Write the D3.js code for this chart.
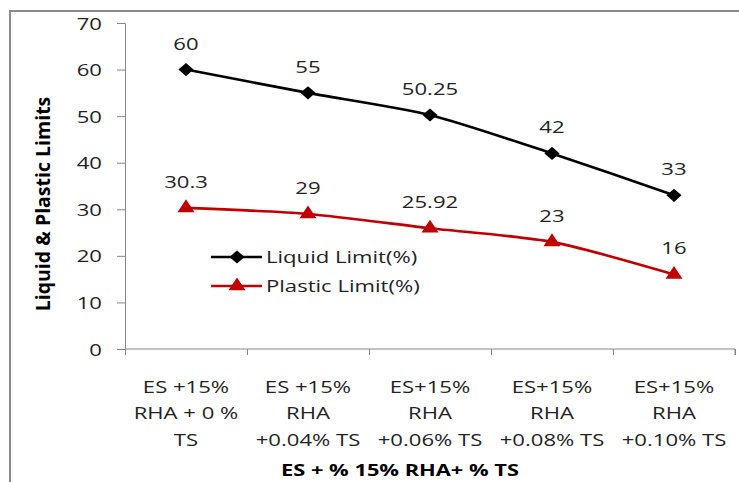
<!DOCTYPE html>
<html>
<head>
<meta charset="utf-8">
<script src="https://cdn.jsdelivr.net/npm/d3@7"></script>
<style>
  body { margin: 0; background: #fff; }
  text { font-family: "Open Sans", sans-serif; }
</style>
</head>
<body>
<svg id="chart"></svg>
<script>
const categories = [
  ["ES +15%", "RHA + 0 %", "TS"],
  ["ES +15%", "RHA", "+0.04% TS"],
  ["ES+15%", "RHA", "+0.06% TS"],
  ["ES+15%", "RHA", "+0.08% TS"],
  ["ES+15%", "RHA", "+0.10% TS"]
];
const liquidLimit = [60, 55, 50.25, 42, 33];
const plasticLimit = [30.3, 29, 25.92, 23, 16];
const yTicks = [0, 10, 20, 30, 40, 50, 60, 70];

const width = 739, height = 482;
const SX = 1.3; // the original is stretched sideways

const svg = d3.select("#chart").attr("width", width).attr("height", height);

// outer frame
svg.append("rect")
  .attr("x", 10).attr("y", 11)
  .attr("width", 740).attr("height", 480)
  .attr("fill", "none").attr("stroke", "#8a8a8a").attr("stroke-width", 2);

const x = d3.scaleBand().domain(d3.range(categories.length)).range([125, 735]);
const xEdge = d3.scaleLinear().domain([0, categories.length]).range([125, 735]);
const y = d3.scaleLinear().domain([0, 70]).range([349, 23]);
const cx = (i) => x(i) + x.bandwidth() / 2;

function stretched(parent, px, py, anchor, str) {
  return parent.append("text")
    .attr("transform", `translate(${px},${py}) scale(${SX},1)`)
    .attr("text-anchor", anchor)
    .text(str);
}

// Y axis
const gy = svg.append("g")
  .attr("transform", "translate(125,0)")
  .call(d3.axisLeft(y).tickValues(yTicks).tickSize(8).tickPadding(0));
gy.select(".domain").attr("stroke", "#868686");
gy.selectAll(".tick line").attr("stroke", "#868686");
gy.selectAll(".tick text")
  .attr("x", -23 / SX)
  .attr("dy", "0.36em")
  .attr("transform", `scale(${SX},1)`)
  .attr("fill", "#222")
  .style("font-size", "17px")
  .style("font-family", "Open Sans");

// X axis: tick marks at category edges
const gx = svg.append("g")
  .attr("transform", `translate(0,${y(0)})`)
  .call(d3.axisBottom(xEdge).ticks(categories.length).tickSize(6).tickFormat(""));
gx.select(".domain").attr("stroke", "#868686").attr("d", `M125,0H735V6`);
gx.selectAll(".tick line").attr("stroke", "#868686");

// category labels
const lineY = [393, 419, 446];
categories.forEach((lines, i) => {
  lines.forEach((ln, j) => {
    stretched(svg, cx(i), lineY[j], "middle", ln)
      .attr("fill", "#222").style("font-size", "17px");
  });
});

// axis titles
stretched(svg, 400, 476, "middle", "ES + % 15% RHA+ % TS")
  .attr("fill", "#000")
  .style("font-size", "16.8px").style("font-weight", "bold");

svg.append("text")
  .attr("transform", "translate(50,204) rotate(-90)")
  .attr("text-anchor", "middle")
  .attr("fill", "#000")
  .style("font-size", "19.5px").style("font-weight", "bold")
  .text("Liquid & Plastic Limits");

// series
const line = d3.line()
  .x((d, i) => cx(i))
  .y((d) => y(d))
  .curve(d3.curveCardinal.tension(0.3));

const diamond = d3.symbol().type(d3.symbolDiamond2).size(110);
const triangle = d3.symbol().type(d3.symbolTriangle).size(95);

const series = [
  { name: "Liquid Limit(%)", values: liquidLimit, color: "#000", symbol: diamond, legendY: 257 },
  { name: "Plastic Limit(%)", values: plasticLimit, color: "#c00000", symbol: triangle, legendY: 286 }
];

series.forEach((s) => {
  svg.append("path")
    .datum(s.values)
    .attr("fill", "none")
    .attr("stroke", s.color)
    .attr("stroke-width", 2.6)
    .attr("d", line);

  svg.selectAll(null)
    .data(s.values)
    .enter()
    .append("path")
    .attr("d", s.symbol)
    .attr("transform", (d, i) => `translate(${cx(i)},${y(d)}) scale(1.15,1)`)
    .attr("fill", s.color);

  s.values.forEach((v, i) => {
    stretched(svg, cx(i), y(v) - 20, "middle", String(v))
      .attr("fill", "#222").style("font-size", "17px");
  });

  // legend
  svg.append("line")
    .attr("x1", 211).attr("x2", 262)
    .attr("y1", s.legendY).attr("y2", s.legendY)
    .attr("stroke", s.color).attr("stroke-width", 2.6);
  svg.append("path")
    .attr("d", s.symbol)
    .attr("transform", `translate(237,${s.legendY}) scale(1.15,1)`)
    .attr("fill", s.color);
  stretched(svg, 266, s.legendY + 6, "start", s.name)
    .attr("fill", "#222").style("font-size", "17px");
});
</script>
</body>
</html>
